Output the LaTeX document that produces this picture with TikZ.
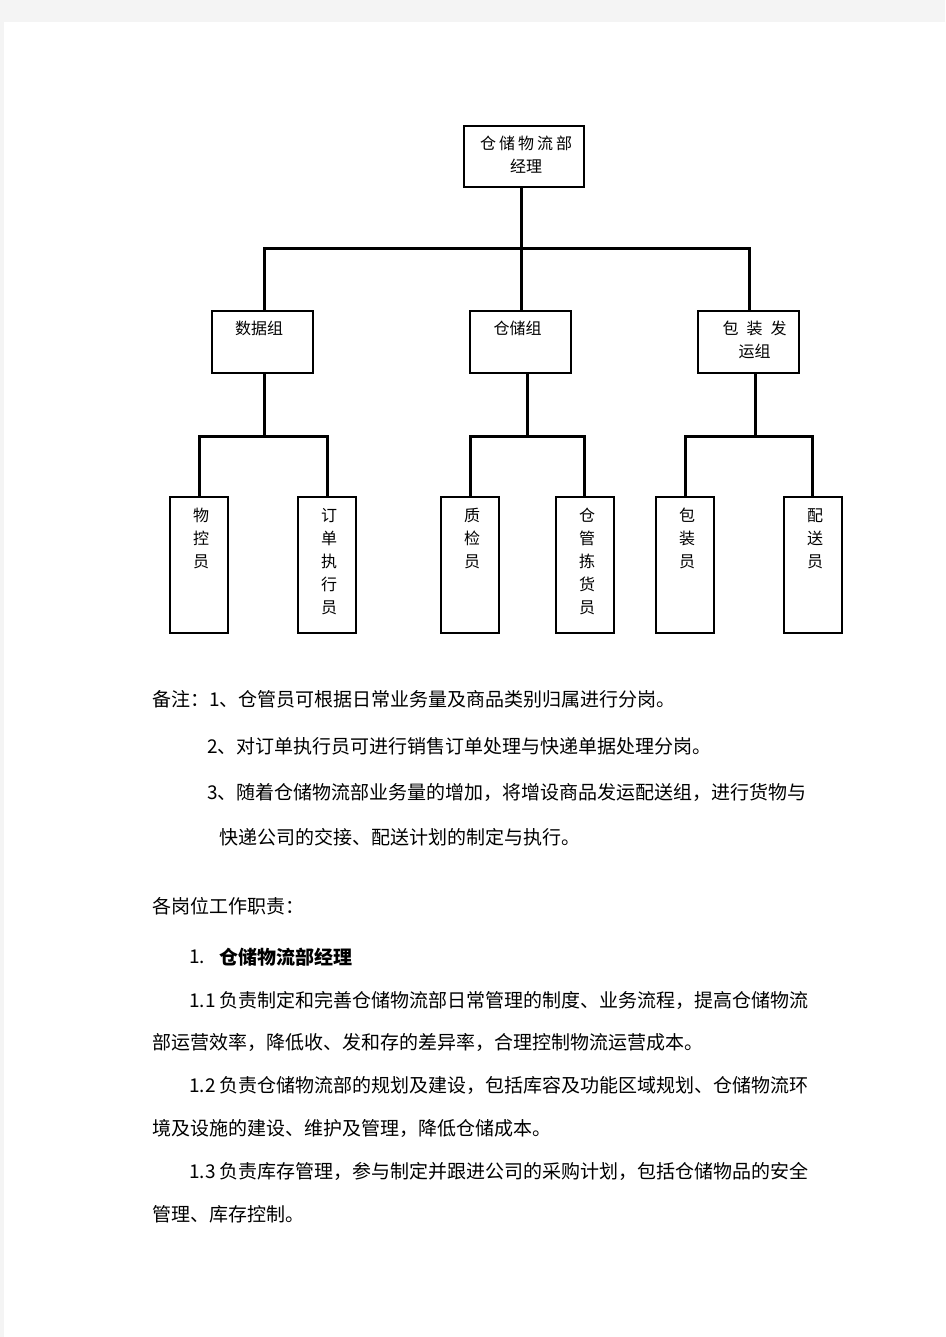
\documentclass[tikz,border=0pt]{standalone}
\usepackage{fontspec}
\newfontfamily\cjk{Noto Sans CJK SC}
\begin{document}
\begin{tikzpicture}[x=1pt,y=-1pt,
  box/.style={draw=black,line width=2pt,inner sep=0pt,fill=white},
  topbox/.style={box,minimum width=120pt,minimum height=61pt},
  groupbox/.style={box,minimum width=101pt,minimum height=62pt},
  leafbox/.style={box,minimum width=58pt,minimum height=136pt},
  conn/.style={draw=black,line width=3pt,line cap=butt,line join=miter},
  boxtext/.style={font=\cjk\fontsize{16}{23}\selectfont,align=center,inner sep=0pt,anchor=north},
  para/.style={font=\cjk\fontsize{19}{23}\selectfont,anchor=west,inner sep=0pt,text=black}
]
\useasboundingbox (0,0) rectangle (945,1337);
\fill[fill={rgb,255:red,244;green,244;blue,244}] (0,0) rectangle (945,1337);
\fill[white] (4,22) rectangle (945,1337);

% bus coordinates
\coordinate (busL) at (264,249);
\coordinate (busC) at (521,249);
\coordinate (busR) at (749,249);
\coordinate (s1L) at (199,436);
\coordinate (s1C) at (264,436);
\coordinate (s1R) at (327,436);
\coordinate (s2L) at (470,436);
\coordinate (s2C) at (527,436);
\coordinate (s2R) at (584,436);
\coordinate (s3L) at (685,436);
\coordinate (s3C) at (755,436);
\coordinate (s3R) at (812,436);

% top box
\node[topbox] (top) at (524,156.5) {};
\node[boxtext] (toptext) at (526,136) {仓\hspace{3pt}储\hspace{3pt}物\hspace{3pt}流\hspace{3pt}部\\经理};

% group boxes
\node[groupbox] (g1) at (262.5,342) {};
\node[groupbox] (g2) at (520,342) {};
\node[groupbox] (g3) at (748.5,342) {};
\node[boxtext] (g1t) at (259,321) {数据组};
\node[boxtext] (g2t) at (517.5,321) {仓储组};
\node[boxtext] (g3t) at (754.5,321) {包\hspace{8pt}装\hspace{8pt}发\\运组};

% leaf boxes
\node[leafbox] (l1) at (199,565) {};
\node[leafbox] (l2) at (327,565) {};
\node[leafbox] (l3) at (469.5,565) {};
\node[leafbox] (l4) at (584.5,565) {};
\node[leafbox] (l5) at (684.5,565) {};
\node[leafbox] (l6) at (813,565) {};
\node[boxtext] (l1t) at (201,508) {物\\控\\员};
\node[boxtext] (l2t) at (329,508) {订\\单\\执\\行\\员};
\node[boxtext] (l3t) at (472,508) {质\\检\\员};
\node[boxtext] (l4t) at (587,508) {仓\\管\\拣\\货\\员};
\node[boxtext] (l5t) at (687,508) {包\\装\\员};
\node[boxtext] (l6t) at (815,508) {配\\送\\员};

% level 1 connectors
\draw[conn] (top.south -| busC) -- (g2.north -| busC);
\draw[conn] (g1.north -| busL) -- (busL) -- (busR) -- (g3.north -| busR);

% level 2 connectors
\draw[conn] (g1.south -| s1C) -- (s1C);
\draw[conn] (l1.north -| s1L) -- (s1L) -- (s1R) -- (l2.north -| s1R);

\draw[conn] (g2.south -| s2C) -- (s2C);
\draw[conn] (l3.north -| s2L) -- (s2L) -- (s2R) -- (l4.north -| s2R);

\draw[conn] (g3.south -| s3C) -- (s3C);
\draw[conn] (l5.north -| s3L) -- (s3L) -- (s3R) -- (l6.north -| s3R);

% notes
\node[para] (n1) at (152,699) {备注：1、仓管员可根据日常业务量及商品类别归属进行分岗。};
\node[para] (n2) at (207,746) {2、对订单执行员可进行销售订单处理与快递单据处理分岗。};
\node[para] (n3) at (207,792) {3、随着仓储物流部业务量的增加，将增设商品发运配送组，进行货物与};
\node[para] (n4) at (219,837) {快递公司的交接、配送计划的制定与执行。};
\node[para] (h1) at (152,906) {各岗位工作职责：};
\node[para] (h2) at (189,957) {1.};
\node[para,font=\cjk\bfseries\fontsize{19}{23}\selectfont] (h2t) at (219,957) {仓储物流部经理};
\node[para] (p1) at (189,1000) {1.1 负责制定和完善仓储物流部日常管理的制度、业务流程，提高仓储物流};
\node[para] (p2) at (152,1042) {部运营效率，降低收、发和存的差异率，合理控制物流运营成本。};
\node[para] (p3) at (189,1085) {1.2 负责仓储物流部的规划及建设，包括库容及功能区域规划、仓储物流环};
\node[para] (p4) at (152,1128) {境及设施的建设、维护及管理，降低仓储成本。};
\node[para] (p5) at (189,1171) {1.3 负责库存管理，参与制定并跟进公司的采购计划，包括仓储物品的安全};
\node[para] (p6) at (152,1214) {管理、库存控制。};
\end{tikzpicture}
\end{document}
